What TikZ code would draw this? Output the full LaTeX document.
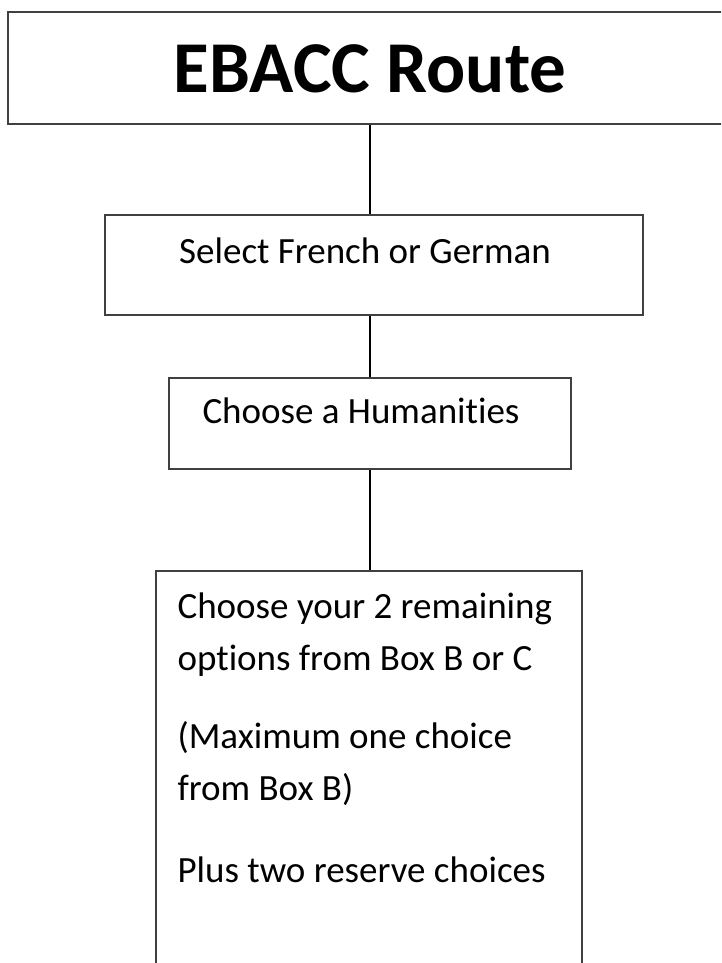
\documentclass[tikz,border=0pt]{standalone}
\usepackage{fontspec}
\setmainfont{Carlito}[Ligatures=NoCommon]
\usepackage{tikz}

\begin{document}
\begin{tikzpicture}[x=1pt, y=-1pt, line width=1.2pt,
  box/.style={draw=black!75, fill=white, inner sep=0pt},
  txt/.style={anchor=base, inner sep=0pt, font=\fontsize{37}{44}\selectfont},
  opttxt/.style={txt, anchor=base west}]
\useasboundingbox (0, 0) rectangle (721, 963);
\clip (0, 0) rectangle (721, 963);
%Boxes
\node[box, minimum width=724pt, minimum height=112pt] (route) at (370, 68) {};
\node[box, minimum width=538pt, minimum height=100pt] (lang) at (374, 265) {};
\node[box, minimum width=402pt, minimum height=91pt] (hum) at (370, 423.5) {};
\node[box, minimum width=426pt, minimum height=409pt] (opts) at (369, 775.5) {};
%Links
\draw (route.south) -- (route.south |- lang.north);
\draw (route.south |- lang.south) -- (route.south |- hum.north);
\draw (hum.south) -- (hum.south |- opts.north);
%Texts
\node[txt, font=\fontsize{73}{88}\selectfont\bfseries] (routeT) at (370, 93) {EBACC Route};
\node[txt] (langT) at (365, 263) {Select French or German};
\node[txt] (humT) at (361, 423) {Choose a Humanities};
\node[opttxt] (optA) at (177, 618) {Choose your 2 remaining};
\node[opttxt] (optB) at (177, 670) {options from Box B or C};
\node[opttxt] (optC) at (177, 748) {(Maximum one choice};
\node[opttxt] (optD) at (177, 800) {from Box B)};
\node[opttxt] (optE) at (177, 882) {Plus two reserve choices};
\end{tikzpicture}
\end{document}
